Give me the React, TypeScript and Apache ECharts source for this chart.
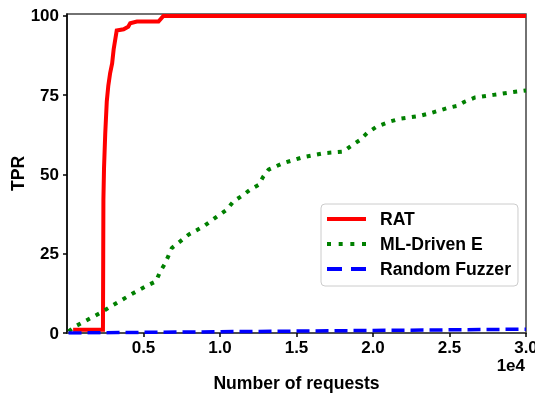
import React, { useEffect, useRef } from "react";
import * as echarts from "echarts";

const FONT = "'Liberation Sans', Arial, Helvetica, sans-serif";

const seriesNames = ["RAT", "ML-Driven E", "Random Fuzzer"];
const seriesColors = ["#ff0000", "#008000", "#0000ff"];

const ratX = [400, 2350, 2380, 2420, 2500, 2600, 2700, 2820, 2950, 3050, 3250, 3700, 4000, 4130, 4570, 5980, 6300, 30000];
const ratY = [1, 1, 42, 52, 63, 73, 78, 82, 85, 89.5, 95.4, 95.8, 96.6, 97.7, 98.2, 98.2, 100, 100];

const mlX = [100, 540, 2170, 3040, 4350, 5220, 5820, 6090, 6420, 6850, 7400, 7940, 8920, 9800, 10450, 10880, 11540, 11970, 12520, 12840, 13170, 14150, 15460, 16760, 18070, 18510, 19160, 19600, 20250, 21120, 21780, 23080, 23740, 24830, 25480, 26020, 26680, 27880, 29180, 30000];
const mlY = [0.5, 2.1, 6.3, 8.9, 12.6, 14.9, 16.3, 19.4, 22, 26.8, 28.9, 31, 33.6, 36.7, 38.9, 41.5, 43.6, 45.2, 46.7, 49.4, 51.5, 53.6, 55.5, 56.7, 57.2, 58.8, 60.9, 63, 65.1, 66.7, 67.6, 68.5, 69.3, 70.9, 71.6, 73, 74.3, 75.1, 76, 76.5];

const rfX = [100, 5000, 10000, 15000, 20000, 25000, 30000];
const rfY = [0, 0.2, 0.4, 0.6, 0.8, 1.0, 1.2];

const xTicks = [5000, 10000, 15000, 20000, 25000, 30000];
const yTicks = [0, 25, 50, 75, 100];

const zip = (xs: number[], ys: number[]) => xs.map((x, i) => [x, ys[i]]);

// legend sample styles (drawn as graphic lines next to the legend text)
const legendDash: (number[] | null)[] = [null, [4, 7.67], [15, 9]];
const legendWidth = [4, 4, 4];

export default function App() {
  const ref = useRef<HTMLDivElement>(null);
  useEffect(() => {
    const chart = echarts.init(ref.current!, null, { renderer: "svg" });
    const legLeft = 321;
    const legTop = 204;
    const padTop = 5;
    const padLeft = 6;
    const rowH = 20;
    const gap = 5;
    const sampleW = 39;
    const samples = seriesNames.map((_, i) => {
      const cy = legTop + padTop + rowH / 2 + i * (rowH + gap);
      return {
        type: "line",
        z: 100,
        shape: { x1: legLeft + padLeft, y1: cy, x2: legLeft + padLeft + sampleW, y2: cy },
        style: {
          stroke: seriesColors[i],
          lineWidth: legendWidth[i],
          lineDash: legendDash[i] || undefined,
          lineCap: "butt",
        },
      };
    });
    chart.setOption({
      animation: false,
      textStyle: { fontFamily: FONT },
      grid: {
        left: 67,
        right: 9,
        top: 14,
        bottom: 61,
        containLabel: false,
        outerBoundsMode: "none",
        show: true,
        borderColor: "#444",
        borderWidth: 1.5,
        backgroundColor: "transparent",
      },
      xAxis: {
        type: "value",
        min: 0,
        max: 30000,
        name: "Number of requests",
        nameLocation: "middle",
        nameGap: 41,
        nameMoveOverlap: false,
        nameTextStyle: { fontFamily: FONT, fontWeight: "bold", fontSize: 17.6, color: "#000" },
        axisLine: { lineStyle: { color: "#444", width: 1.5 } },
        axisTick: { customValues: xTicks, length: 4, lineStyle: { color: "#000", width: 1.5 } },
        axisLabel: {
          customValues: xTicks,
          margin: 6,
          hideOverlap: false,
          fontFamily: FONT,
          fontWeight: "bold",
          fontSize: 17,
          color: "#000",
          formatter: (v: number) => (v / 10000).toFixed(1),
        },
        splitLine: { show: false },
      },
      yAxis: {
        type: "value",
        min: 0,
        max: 100.6,
        name: "TPR",
        nameLocation: "middle",
        nameGap: 40,
        nameMoveOverlap: false,
        nameTextStyle: { fontFamily: FONT, fontWeight: "bold", fontSize: 17.6, color: "#000" },
        axisLine: { show: true, lineStyle: { color: "#000", width: 1.5 } },
        axisTick: { show: true, customValues: yTicks, length: 4, lineStyle: { color: "#000", width: 1.5 } },
        axisLabel: {
          customValues: yTicks,
          margin: 8,
          fontFamily: FONT,
          fontWeight: "bold",
          fontSize: 17,
          color: "#000",
        },
        splitLine: { show: false },
      },
      legend: {
        orient: "vertical",
        left: legLeft,
        top: legTop,
        padding: [padTop, 7, 7, padLeft],
        itemWidth: sampleW,
        itemHeight: 14,
        itemGap: gap,
        borderColor: "#cccccc",
        borderWidth: 1,
        borderRadius: 4,
        backgroundColor: "#fff",
        selectedMode: false,
        itemStyle: { opacity: 0 },
        lineStyle: { opacity: 0 },
        textStyle: {
          fontFamily: FONT,
          fontWeight: "bold",
          fontSize: 17.6,
          lineHeight: rowH,
          color: "#000",
          padding: [0, 0, 0, 8],
        },
        data: seriesNames,
      },
      series: [
        {
          name: seriesNames[0],
          type: "line",
          data: zip(ratX, ratY),
          showSymbol: false,
          symbol: "none",
          color: seriesColors[0],
          lineStyle: { color: seriesColors[0], width: 4, join: "miter" },
          z: 3,
        },
        {
          name: seriesNames[1],
          type: "line",
          data: zip(mlX, mlY),
          showSymbol: false,
          symbol: "none",
          color: seriesColors[1],
          lineStyle: { color: seriesColors[1], width: 4, type: [4, 6.5], cap: "butt" },
          z: 4,
        },
        {
          name: seriesNames[2],
          type: "line",
          data: zip(rfX, rfY),
          showSymbol: false,
          symbol: "none",
          color: seriesColors[2],
          lineStyle: { color: seriesColors[2], width: 3.5, type: [13, 6], cap: "butt" },
          z: 5,
        },
      ],
      graphic: [
        ...samples,
        {
          type: "text",
          right: 10,
          top: 357,
          style: {
            text: "1e4",
            fontFamily: FONT,
            fontWeight: "bold",
            fontSize: 17,
            fill: "#000",
          },
        },
      ],
    });
    return () => chart.dispose();
  }, []);
  return <div ref={ref} style={{ position: "fixed", left: 0, top: 0, width: 535, height: 394 }} />;
}
